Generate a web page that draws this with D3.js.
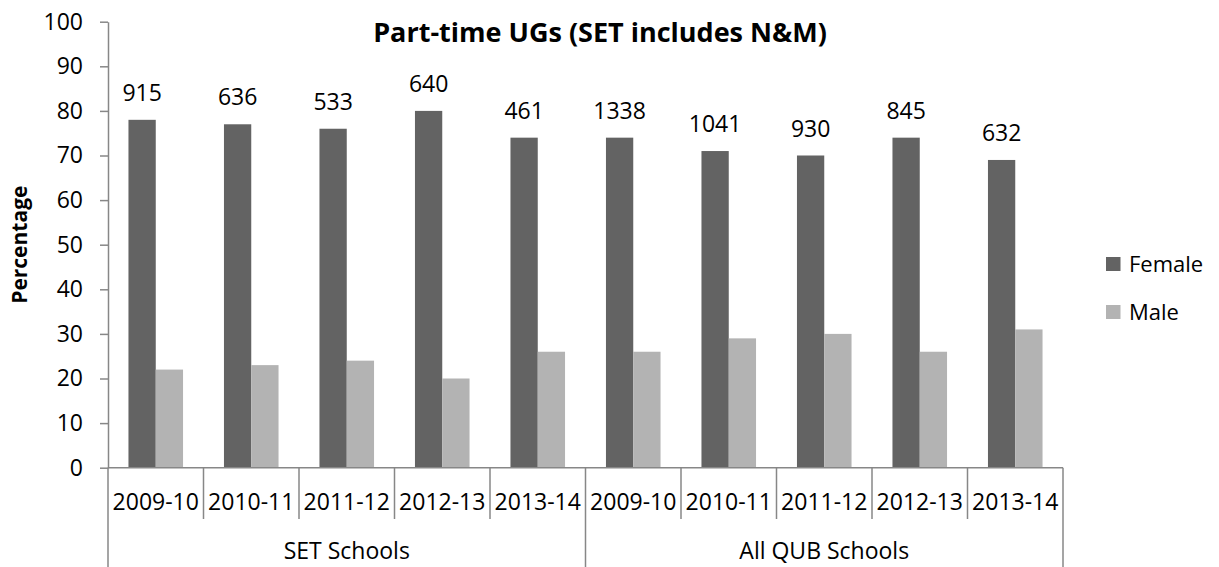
<!DOCTYPE html>
<html>
<head>
<meta charset="utf-8">
<script src="https://cdn.jsdelivr.net/npm/d3@7"></script>
<style>
  html, body { margin: 0; padding: 0; background: #ffffff; }
  svg text { font-family: "Open Sans", "Noto Sans", sans-serif; fill: #000; }
</style>
</head>
<body>
<svg id="chart" width="1219" height="567"></svg>
<script>
// Part-time undergraduate gender split, by school group and academic year
const groups = ["SET Schools", "All QUB Schools"];
const years = ["2009-10", "2010-11", "2011-12", "2012-13", "2013-14"];
const femalePct = [78, 77, 76, 80, 74, 74, 71, 70, 74, 69];
const malePct = [22, 23, 24, 20, 26, 26, 29, 30, 26, 31];
const headcounts = [915, 636, 533, 640, 461, 1338, 1041, 930, 845, 632];
const seriesNames = ["Female", "Male"];
const yTicks = [0, 10, 20, 30, 40, 50, 60, 70, 80, 90, 100];

const colors = { Female: "#636363", Male: "#b3b3b3" };
const axisColor = "#878787";
const labelSize = "23px";

// one row per bar cluster
const rows = [];
groups.forEach((g, gi) => years.forEach((yr, yi) => {
  const i = gi * years.length + yi;
  rows.push({ i, group: g, year: yr, Female: femalePct[i], Male: malePct[i], n: headcounts[i] });
}));

const svg = d3.select("#chart");
const plotLeft = 108, plotRight = 1063, plotTop = 21.7, plotBottom = 467.7;

const x0 = d3.scaleBand().domain(rows.map(d => d.i)).range([plotLeft, plotRight]).padding(0);
const x1 = d3.scaleBand().domain(seriesNames).range([0, x0.bandwidth()])
  .paddingInner(0).paddingOuter(0.75);
const y = d3.scaleLinear().domain([0, 100]).range([plotBottom, plotTop]);

// title
svg.append("text")
  .attr("x", 600).attr("y", 42)
  .attr("text-anchor", "middle")
  .style("font-weight", "700").style("font-size", "27px")
  .text("Part-time UGs (SET includes N&M)");

// y axis title
svg.append("text")
  .attr("transform", `translate(27,${(plotTop + plotBottom) / 2}) rotate(-90)`)
  .attr("text-anchor", "middle")
  .style("font-weight", "700").style("font-size", "21px")
  .text("Percentage");

// bars
const clusters = svg.append("g").selectAll("g").data(rows).join("g")
  .attr("transform", d => `translate(${x0(d.i)},0)`);

clusters.selectAll("rect")
  .data(d => seriesNames.map(s => ({ s, v: d[s] })))
  .join("rect")
  .attr("x", d => x1(d.s))
  .attr("width", x1.bandwidth())
  .attr("y", d => y(d.v))
  .attr("height", d => y(0) - y(d.v))
  .attr("fill", d => colors[d.s]);

// headcount labels above the Female bars
clusters.append("text")
  .attr("x", x1("Female") + x1.bandwidth() / 2)
  .attr("y", d => y(d.Female) - 19)
  .attr("text-anchor", "middle")
  .style("font-size", labelSize)
  .text(d => d.n);

// y axis
const yAxis = svg.append("g")
  .attr("transform", `translate(${plotLeft},0)`)
  .call(d3.axisLeft(y).tickValues(yTicks).tickSize(8).tickSizeOuter(0).tickPadding(17));
yAxis.select(".domain").attr("stroke", axisColor).attr("stroke-width", 1.5);
yAxis.selectAll(".tick line").attr("stroke", axisColor).attr("stroke-width", 1.5);
yAxis.selectAll(".tick text")
  .style("font-size", labelSize).style("font-family", "'Open Sans', sans-serif")
  .attr("fill", "#000");

// x axis baseline
svg.append("line")
  .attr("x1", plotLeft).attr("x2", plotRight).attr("y1", plotBottom).attr("y2", plotBottom)
  .attr("stroke", axisColor).attr("stroke-width", 1.5);

// category separators: short between years, full height between groups
const boundaries = d3.range(rows.length + 1);
svg.append("g").selectAll("line").data(boundaries).join("line")
  .attr("x1", b => plotLeft + b * x0.step())
  .attr("x2", b => plotLeft + b * x0.step())
  .attr("y1", plotBottom)
  .attr("y2", b => (b % years.length === 0) ? 567 : 519)
  .attr("stroke", axisColor).attr("stroke-width", 1.5);

// year labels
svg.append("g").selectAll("text").data(rows).join("text")
  .attr("x", d => x0(d.i) + x0.bandwidth() / 2)
  .attr("y", 510)
  .attr("text-anchor", "middle")
  .style("font-size", labelSize)
  .text(d => d.year);

// group labels
svg.append("g").selectAll("text").data(groups).join("text")
  .attr("x", (g, gi) => plotLeft + (gi + 0.5) * years.length * x0.step())
  .attr("y", 559)
  .attr("text-anchor", "middle")
  .style("font-size", labelSize)
  .text(g => g);

// legend
const legend = svg.append("g").selectAll("g").data(seriesNames).join("g")
  .attr("transform", (s, i) => `translate(1106,${257 + i * 48})`);
legend.append("rect").attr("width", 14.5).attr("height", 14)
  .attr("fill", s => colors[s]);
legend.append("text").attr("x", 23).attr("y", 14.5)
  .style("font-size", "22px")
  .text(s => s);
</script>
</body>
</html>
